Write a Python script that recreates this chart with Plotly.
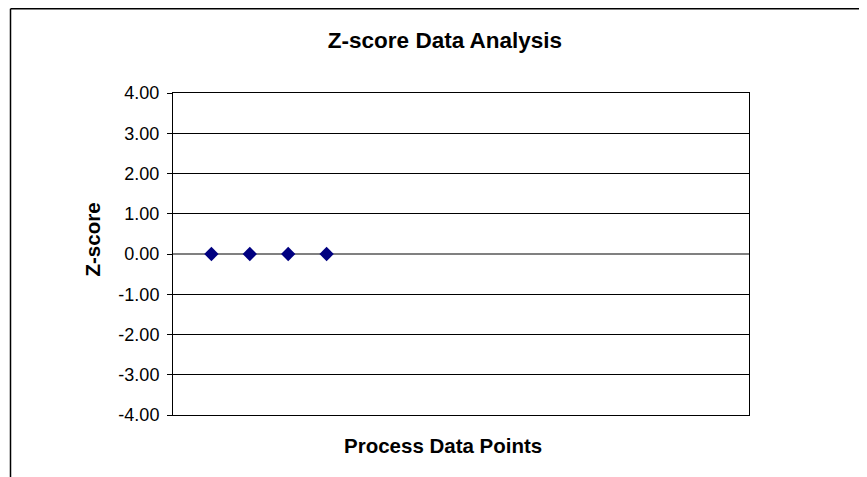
import plotly.graph_objects as go

# Data
point_index = [1, 2, 3, 4]
z_scores = [0.0, 0.0, 0.0, 0.0]
y_ticks = [-4, -3, -2, -1, 0, 1, 2, 3, 4]
y_tick_labels = [f"{v:.2f}" for v in y_ticks]

FONT = "Liberation Sans, Arial, sans-serif"

OFF = 8  # default page body margin
W, H = 867, 477
L, T = 173 - OFF, 93 - OFF
pw, ph = 576, 322
R = W - L - pw
B = H - T - ph


def px_to_paper_x(px):
    return (px - OFF - L) / pw


def px_to_paper_y(py):
    return (T + ph - (py - OFF)) / ph


fig = go.Figure()
fig.add_trace(go.Scatter(
    x=point_index, y=z_scores, mode="markers",
    marker=dict(symbol="diamond", size=11, color="#000080",
                line=dict(width=0)),
    showlegend=False, hoverinfo="x+y",
))

fig.update_layout(
    width=W, height=H,
    margin=dict(l=L, r=R, t=T, b=B),
    paper_bgcolor="white", plot_bgcolor="white",
    font=dict(family=FONT, color="black"),
    title=dict(text="<b>Z-score Data Analysis</b>", x=(445 - OFF) / W, xanchor="center",
               y=1 - (40 - OFF) / H, yanchor="middle",
               font=dict(size=22.5, family=FONT, color="black")),
    xaxis=dict(range=[0, 15], showgrid=False, zeroline=False, showticklabels=False,
               ticks="", showline=True, linecolor="black", linewidth=1, mirror=True,
               fixedrange=True),
    yaxis=dict(range=[-4, 4], tickmode="array", tickvals=y_ticks, ticktext=y_tick_labels,
               showgrid=True, gridcolor="black", gridwidth=1,
               zeroline=True, zerolinecolor="#808080", zerolinewidth=1.5,
               ticks="outside", ticklen=5, tickcolor="black", tickwidth=1,
               ticklabelstandoff=4,
               tickfont=dict(size=18, family=FONT, color="black"),
               showline=True, linecolor="black", linewidth=1, mirror=True,
               fixedrange=True),
    annotations=[
        dict(text="<b>Z-score</b>", textangle=-90, xref="paper", yref="paper",
             x=px_to_paper_x(91.5), y=px_to_paper_y(240), xanchor="center", yanchor="middle",
             showarrow=False, font=dict(size=20.5, family=FONT, color="black")),
        dict(text="<b>Process Data Points</b>", xref="paper", yref="paper",
             x=px_to_paper_x(443), y=px_to_paper_y(445), xanchor="center", yanchor="middle",
             showarrow=False, font=dict(size=20.5, family=FONT, color="black")),
    ],
    shapes=[
        dict(type="line", xref="paper", yref="paper",
             x0=px_to_paper_x(10.5), x1=px_to_paper_x(10.5),
             y0=px_to_paper_y(8.75), y1=px_to_paper_y(490),
             line=dict(color="black", width=1.5)),
        dict(type="line", xref="paper", yref="paper",
             x0=px_to_paper_x(10.5), x1=px_to_paper_x(880),
             y0=px_to_paper_y(8.75), y1=px_to_paper_y(8.75),
             line=dict(color="black", width=1.5)),
    ],
)

fig.write_html("out.html")
